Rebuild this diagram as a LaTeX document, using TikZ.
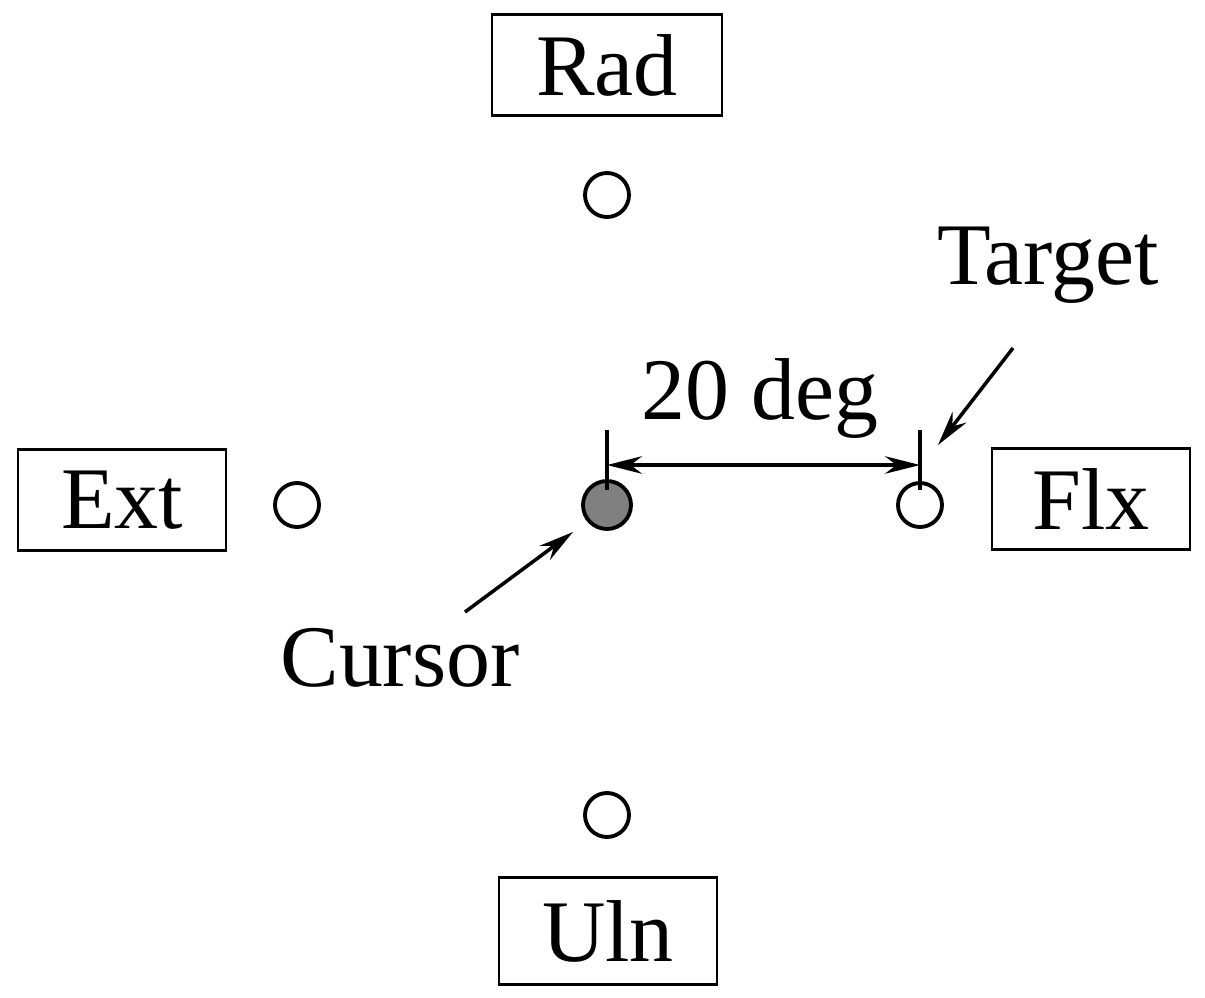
\documentclass[tikz,border=0pt]{standalone}
\usepackage{fontspec}
\setmainfont{Liberation Serif}
\usetikzlibrary{arrows.meta}
\begin{document}
\begin{tikzpicture}[x=0.02cm,y=-0.02cm,line width=2pt,
 lbl/.style={font=\fontsize{50}{58}\selectfont,inner sep=0pt},
 boxed/.style={lbl,draw,line width=1.6pt,minimum height=2.02cm,inner xsep=0.5cm},
 dot/.style={circle,draw,minimum size=0.88cm,inner sep=0pt,line width=2.2pt},
 arr/.style={-{Stealth[length=0.7cm,width=0.35cm]}}]
\useasboundingbox (0,0) rectangle (1205,998);
\node[boxed,minimum width=4.6cm] (rad) at (607,65) {Rad};
\node[boxed,minimum width=4.16cm] (ext) at (122,500) {Ext};
\node[boxed,minimum width=3.96cm] (flx) at (1091,499) {Flx};
\node[boxed,minimum width=4.36cm,minimum height=2.14cm] (uln) at (608,931) {Uln};
\node[dot] (ct) at (607,195) {};
\node[dot] (ce) at (297,505) {};
\node[dot] (cb) at (607,815) {};
\node[dot] (tg) at (920,505) {};
\node[dot,fill=black!50,minimum size=0.96cm] (cur) at (607,505) {};
\coordinate (t1a) at (607,430); \coordinate (t1b) at (607,490);
\coordinate (t2a) at (920,430); \coordinate (t2b) at (920,490);
\draw (t1a) -- (t1b); \draw (t2a) -- (t2b);
\coordinate (a1) at (607,465); \coordinate (a2) at (920,465);
\draw[{Stealth[length=0.7cm,width=0.35cm]}-{Stealth[length=0.7cm,width=0.35cm]}] (a1) -- (a2);
\node[lbl] (deg) at (760,398) {20 deg};
\node[lbl] (tt) at (1048,265) {Target};
\node[lbl] (ct2) at (400,658) {Cursor};
\coordinate (ts) at (1013,348); \coordinate (te) at (938,445);
\draw[arr] (ts) -- (te);
\coordinate (cs) at (465,612); \coordinate (ce2) at (573,532);
\draw[arr] (cs) -- (ce2);
\end{tikzpicture}
\end{document}
